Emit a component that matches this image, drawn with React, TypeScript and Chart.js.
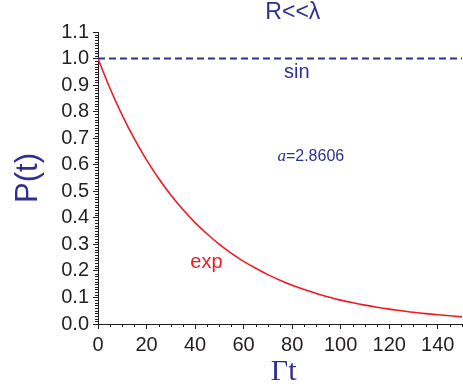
import React, { useEffect, useRef } from "react";
import { Chart, registerables } from "chart.js";

Chart.register(...registerables);

// Γt values (x) and P(t) readings for the exponential curve
const T_VALUES = [0, 5, 10, 15, 20, 25, 30, 35, 40, 45, 50, 55, 60, 65, 70, 75, 80, 85, 90, 95, 100, 105, 110, 115, 120, 125, 130, 135, 140, 145, 150];
const P_EXP = [1.0, 0.886, 0.786, 0.697, 0.618, 0.548, 0.486, 0.431, 0.382, 0.339, 0.300, 0.266, 0.236, 0.210, 0.186, 0.165, 0.146, 0.130, 0.115, 0.102, 0.090, 0.080, 0.071, 0.063, 0.056, 0.050, 0.044, 0.039, 0.035, 0.031, 0.027];
// "sin" case: constant P(t) = 1
const T_SIN = [0, 150];
const P_SIN = [1.0, 1.0];

// tick labels
const X_TICKS = [0, 20, 40, 60, 80, 100, 120, 140];
const Y_TICKS = [0, 0.1, 0.2, 0.3, 0.4, 0.5, 0.6, 0.7, 0.8, 0.9, 1.0, 1.1];

const X_MIN = 0;
const X_MAX = 150;
const X_MAJOR = 20;
const X_MINOR = 5;
const Y_MIN = 0;
const Y_MAX = 1.1;
const Y_MAJOR = 0.1;
const Y_MINOR = 0.01;

const TITLE = "R<<\u03bb";
const X_TITLE = "\u0393t";
const Y_TITLE = "P(t)";
const LABEL_SIN = "sin";
const LABEL_EXP = "exp";
const LABEL_A_SYM = "a";
const LABEL_A_VAL = "=2.8606";

const BLUE = "#2e3192";
const RED = "#ed1c24";
const INK = "#231f20";

export default function App() {
  const ref = useRef<HTMLCanvasElement | null>(null);

  useEffect(() => {
    if (!ref.current) return;

    const decor = {
      id: "decor",
      afterDraw(chart: any) {
        const ctx = chart.ctx;
        const xs = chart.scales.x;
        const ys = chart.scales.y;
        const area = chart.chartArea;
        ctx.save();
        // minor ticks
        ctx.strokeStyle = INK;
        ctx.lineWidth = 1;
        ctx.beginPath();
        const ny = Math.round((Y_MAX - Y_MIN) / Y_MINOR);
        const per = Math.round(Y_MAJOR / Y_MINOR);
        for (let i = 0; i <= ny; i++) {
          if (i % per === 0) continue;
          const py = Math.round(ys.getPixelForValue(Y_MIN + i * Y_MINOR)) + 0.5;
          ctx.moveTo(area.left - 3, py);
          ctx.lineTo(area.left, py);
        }
        const nx = Math.round((X_MAX - X_MIN) / X_MINOR);
        const perx = Math.round(X_MAJOR / X_MINOR);
        for (let i = 0; i <= nx; i++) {
          if (i % perx === 0) continue;
          const px = Math.round(xs.getPixelForValue(X_MIN + i * X_MINOR)) + 0.5;
          ctx.moveTo(px, area.bottom);
          ctx.lineTo(px, area.bottom + 3);
        }
        ctx.stroke();

        // texts
        ctx.textAlign = "center";
        ctx.textBaseline = "middle";
        ctx.fillStyle = BLUE;
        ctx.font = "23px 'Liberation Sans', Arial, sans-serif";
        ctx.fillText(TITLE, xs.getPixelForValue(80.3), ys.getPixelForValue(1.172));

        ctx.font = "20px 'Liberation Sans', Arial, sans-serif";
        ctx.fillText(LABEL_SIN, xs.getPixelForValue(81.9), ys.getPixelForValue(0.948));

        // a=2.8606
        const ax = xs.getPixelForValue(87.7);
        const ay = ys.getPixelForValue(0.638);
        ctx.font = "italic 17px 'Liberation Serif', 'Times New Roman', serif";
        const w1 = ctx.measureText(LABEL_A_SYM).width;
        ctx.font = "16px 'Liberation Sans', Arial, sans-serif";
        const w2 = ctx.measureText(LABEL_A_VAL).width;
        const start = ax - (w1 + w2) / 2;
        ctx.textAlign = "left";
        ctx.textBaseline = "alphabetic";
        ctx.font = "italic 17px 'Liberation Serif', 'Times New Roman', serif";
        ctx.fillText(LABEL_A_SYM, start, ay + 6);
        ctx.font = "16px 'Liberation Sans', Arial, sans-serif";
        ctx.fillText(LABEL_A_VAL, start + w1, ay + 6);

        ctx.textAlign = "center";
        ctx.textBaseline = "middle";
        ctx.fillStyle = RED;
        ctx.font = "20px 'Liberation Sans', Arial, sans-serif";
        ctx.fillText(LABEL_EXP, xs.getPixelForValue(44.7), ys.getPixelForValue(0.23));

        // axis titles
        ctx.fillStyle = BLUE;
        ctx.font = "30px 'Liberation Serif', 'Times New Roman', serif";
        ctx.textBaseline = "alphabetic";
        ctx.fillText(X_TITLE, xs.getPixelForValue(76.5), area.bottom + 56);

        ctx.save();
        ctx.translate(area.left - 70, (area.top + area.bottom) / 2);
        ctx.rotate(-Math.PI / 2);
        ctx.font = "31px 'Liberation Sans', Arial, sans-serif";
        ctx.textBaseline = "middle";
        ctx.fillText(Y_TITLE, 0, 0);
        ctx.restore();

        ctx.restore();
      },
    };

    const chart = new Chart(ref.current, {
      type: "line",
      data: {
        datasets: [
          {
            label: "sin",
            data: T_SIN.map((t, i) => ({ x: t, y: P_SIN[i] })),
            borderColor: BLUE,
            borderWidth: 2,
            borderDash: [7, 4],
            pointRadius: 0,
            fill: false,
          },
          {
            label: "exp",
            data: T_VALUES.map((t, i) => ({ x: t, y: P_EXP[i] })),
            borderColor: RED,
            borderWidth: 1.6,
            pointRadius: 0,
            cubicInterpolationMode: "monotone",
            fill: false,
          },
        ],
      },
      options: {
        responsive: false,
        animation: false,
        layout: { padding: { top: 32, right: 1, left: 0, bottom: 0 } },
        plugins: { legend: { display: false }, tooltip: { enabled: false }, title: { display: false } },
        scales: {
          x: {
            type: "linear",
            min: X_MIN,
            max: X_MAX,
            afterBuildTicks: (s: any) => {
              s.ticks = X_TICKS.map((v) => ({ value: v }));
            },
            afterFit: (s: any) => {
              s.height = 64;
            },
            ticks: {
              autoSkip: false,
              color: INK,
              padding: 4,
              maxRotation: 0,
              callback: (v: any) => String(v),
              font: { family: "'Liberation Sans', Arial, sans-serif", size: 20 },
            },
            grid: { display: true, drawOnChartArea: false, drawTicks: true, tickLength: 5, tickColor: INK, tickWidth: 1 },
            border: { display: true, color: INK, width: 1 },
          },
          y: {
            type: "linear",
            min: Y_MIN,
            max: Y_MAX,
            afterBuildTicks: (s: any) => {
              s.ticks = Y_TICKS.map((v) => ({ value: v }));
            },
            afterFit: (s: any) => {
              s.width = 98;
            },
            ticks: {
              autoSkip: false,
              color: INK,
              padding: 4,
              callback: (v: any) => Number(v).toFixed(1),
              font: { family: "'Liberation Sans', Arial, sans-serif", size: 20 },
            },
            grid: { display: true, drawOnChartArea: false, drawTicks: true, tickLength: 5, tickColor: INK, tickWidth: 1 },
            border: { display: true, color: INK, width: 1 },
          },
        },
      },
      plugins: [decor],
    } as any);

    return () => chart.destroy();
  }, []);

  return (
    <div style={{ position: "absolute", left: 0, top: 0, width: 463, height: 388, background: "#fff" }}>
      <canvas ref={ref} width={463} height={388} style={{ display: "block" }} />
    </div>
  );
}
